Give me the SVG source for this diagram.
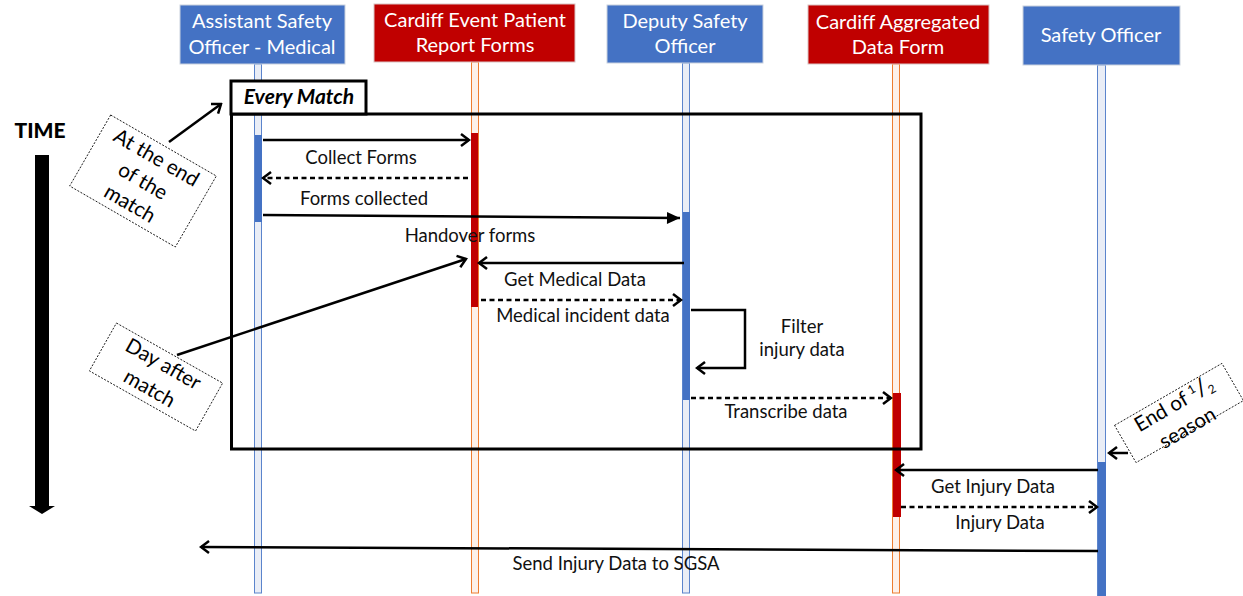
<svg xmlns="http://www.w3.org/2000/svg" width="1243" height="596" viewBox="0 0 1243 596">
  <style>
    text { font-family: Lato, "Open Sans", "Liberation Sans", sans-serif; }
    .hdr { fill: #ffffff; font-size: 20px; text-anchor: middle; }
    .box-blue { fill: #4472C4; stroke: #C9D1DE; stroke-width: 1; }
    .box-red { fill: #C00000; stroke: #D9C4C4; stroke-width: 1; }
    .life-blue { fill: #E9EDF6; stroke: #5B84CC; stroke-width: 1; }
    .life-red { fill: #FDF1EA; stroke: #ED7D31; stroke-width: 1; }
    .act-blue { fill: #4472C4; }
    .act-red { fill: #C00000; }
    .msg { fill: none; stroke: #000; stroke-width: 2.5; }
    .dash { stroke-dasharray: 5 3.5; }
    .lbl { fill: #111; font-size: 18.5px; text-anchor: middle; }
    .note { fill: #fff; stroke: #000; stroke-width: 0.8; stroke-dasharray: 2 1.5; }
    .notetxt { fill: #000; font-size: 20.5px; text-anchor: middle; }
  </style>
  <defs>
    <marker id="open" markerUnits="userSpaceOnUse" viewBox="-12 -8 14 16" markerWidth="14" markerHeight="16" refX="0" refY="0" orient="auto">
      <path d="M -8 -6 L 0 0 L -8 6" fill="none" stroke="#000" stroke-width="2.5"/>
    </marker>
    <marker id="solid" markerUnits="userSpaceOnUse" viewBox="-14 -8 15 16" markerWidth="15" markerHeight="16" refX="0" refY="0" orient="auto">
      <path d="M -13 -6 L 0 0 L -13 6 Z" fill="#000"/>
    </marker>
  </defs>

  <!-- time axis -->
  <g id="time-axis">
    <text x="40" y="138" style="font-size:21px;font-weight:900;text-anchor:middle;fill:#000">TIME</text>
    <rect x="35" y="155" width="14" height="352" fill="#000"/>
    <path d="M 29 506 L 55 506 L 42 514 Z" fill="#000"/>
  </g>

  <!-- lifelines -->
  <g id="lifelines">
    <rect class="life-blue" x="254.5" y="64" width="7" height="529"/>
    <rect class="life-red" x="471.5" y="62" width="7" height="531"/>
    <rect class="life-blue" x="682.5" y="63" width="7" height="530"/>
    <rect class="life-red" x="892.5" y="64" width="7" height="529"/>
    <rect class="life-blue" x="1097.5" y="65" width="8" height="531"/>
  </g>

  <!-- activation bars -->
  <g id="activations">
    <rect class="act-blue" x="255" y="135" width="7" height="87"/>
    <rect class="act-red" x="471" y="133" width="7" height="174"/>
    <rect class="act-blue" x="683" y="212" width="7" height="188"/>
    <rect class="act-red" x="893" y="393" width="8" height="124"/>
    <rect class="act-blue" x="1098" y="462" width="8" height="134"/>
  </g>

  <!-- combined fragment -->
  <g id="every-match">
    <rect x="231.5" y="114" width="689.5" height="335" fill="none" stroke="#000" stroke-width="3"/>
    <rect x="231" y="81" width="135" height="33" fill="#fff" stroke="#000" stroke-width="3"/>
    <text x="299" y="104" style="font-size:21px;font-weight:bold;font-style:italic;text-anchor:middle;fill:#000">Every Match</text>
  </g>

  <!-- participants -->
  <g id="asst-safety-officer">
    <rect class="box-blue" x="180" y="5" width="165" height="59"/>
    <text class="hdr" x="262" y="28">Assistant Safety</text>
    <text class="hdr" x="262" y="54">Officer - Medical</text>
  </g>
  <g id="patient-report-forms">
    <rect class="box-red" x="374" y="4" width="201" height="58"/>
    <text class="hdr" x="475" y="27">Cardiff Event Patient</text>
    <text class="hdr" x="475" y="52">Report Forms</text>
  </g>
  <g id="deputy-safety-officer">
    <rect class="box-blue" x="607" y="5" width="156" height="58"/>
    <text class="hdr" x="685" y="28">Deputy Safety</text>
    <text class="hdr" x="685" y="53">Officer</text>
  </g>
  <g id="aggregated-data-form">
    <rect class="box-red" x="808" y="5" width="181" height="59"/>
    <text class="hdr" x="898" y="29">Cardiff Aggregated</text>
    <text class="hdr" x="898" y="54">Data Form</text>
  </g>
  <g id="safety-officer">
    <rect class="box-blue" x="1023" y="6" width="157" height="59"/>
    <text class="hdr" x="1101" y="42">Safety Officer</text>
  </g>

  <!-- messages -->
  <g id="connectors">
    <line class="msg" x1="263" y1="140" x2="469" y2="140" marker-end="url(#open)"/>
    <line class="msg dash" x1="468" y1="178" x2="263" y2="178" marker-end="url(#open)"/>
    <line class="msg" x1="263" y1="215" x2="680" y2="218" marker-end="url(#solid)"/>
    <line class="msg" x1="684" y1="263" x2="479" y2="263" marker-end="url(#open)"/>
    <line class="msg dash" x1="481" y1="300" x2="681" y2="300" marker-end="url(#open)"/>
    <polyline class="msg" points="691,310 745,310 745,368 697,368" marker-end="url(#open)"/>
    <line class="msg dash" x1="691" y1="398" x2="891" y2="398" marker-end="url(#open)"/>
    <line class="msg" x1="1098" y1="470" x2="896" y2="470" marker-end="url(#open)"/>
    <line class="msg dash" x1="901" y1="507" x2="1097" y2="507" marker-end="url(#open)"/>
    <line class="msg" x1="1098" y1="551" x2="201" y2="547" stroke-width="3" marker-end="url(#open)"/>
    <!-- note pointers -->
    <line class="msg" x1="169" y1="142" x2="221" y2="104" marker-end="url(#open)"/>
    <line class="msg" x1="177" y1="355" x2="466" y2="259" marker-end="url(#open)"/>
    <line class="msg" x1="1128" y1="453" x2="1109" y2="453" marker-end="url(#open)"/>
  </g>

  <!-- message labels -->
  <g id="labels">
    <text class="lbl" x="361" y="164">Collect Forms</text>
    <text class="lbl" x="364" y="205">Forms collected</text>
    <text class="lbl" x="470" y="242">Handover forms</text>
    <text class="lbl" x="575" y="286">Get Medical Data</text>
    <text class="lbl" x="583" y="322">Medical incident data</text>
    <text class="lbl" x="802" y="333">Filter</text>
    <text class="lbl" x="802" y="356">injury data</text>
    <text class="lbl" x="786" y="418">Transcribe data</text>
    <text class="lbl" x="993" y="493">Get Injury Data</text>
    <text class="lbl" x="1000" y="529">Injury Data</text>
    <text class="lbl" x="616" y="570">Send Injury Data to SGSA</text>
  </g>

  <!-- notes -->
  <g id="note-end-of-match" transform="translate(143 181) rotate(30)">
    <rect class="note" x="-61" y="-41" width="122" height="82"/>
    <text class="notetxt" x="0" y="-20">At the end</text>
    <text class="notetxt" x="0" y="7">of the</text>
    <text class="notetxt" x="0" y="33">match</text>
  </g>
  <g id="note-day-after" transform="translate(156 377) rotate(29.5)">
    <rect class="note" x="-61" y="-27.5" width="122" height="55"/>
    <text class="notetxt" x="0" y="-8">Day after</text>
    <text class="notetxt" x="0" y="20">match</text>
  </g>
  <g id="note-half-season" transform="translate(1179 413) rotate(-30)">
    <rect class="note" x="-62" y="-21.5" width="124" height="43"/>
    <text class="notetxt" x="0" y="-3">End of <tspan font-size="12" dy="-7">1</tspan><tspan font-size="24" dy="7">/</tspan><tspan font-size="12" dy="3">2</tspan></text>
    <text class="notetxt" x="0" y="24">season</text>
  </g>
</svg>
